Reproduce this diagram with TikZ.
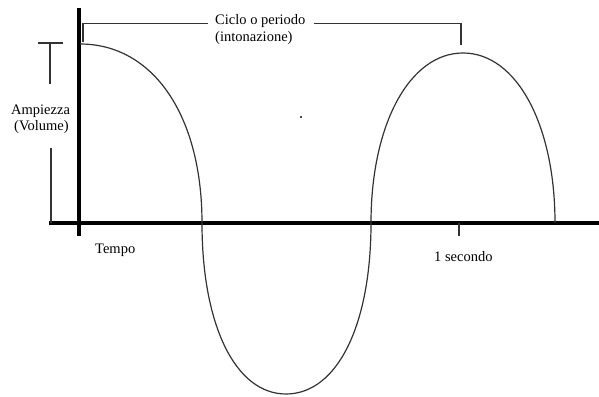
\documentclass[tikz,border=0pt]{standalone}
\usepackage{fontspec}
\setmainfont{Liberation Serif}
\begin{document}
\begin{tikzpicture}[x=1pt,y=1pt,
  lbl/.style={inner sep=0pt, anchor=base west, font=\fontsize{14.5}{17}\selectfont},
  axisline/.style={line width=3.2pt, black},
  thin/.style={line width=1.1pt, black!80},
  wave/.style={line width=1.2pt, black!80}]
\useasboundingbox (0,0) rectangle (599,396);
% axes
\coordinate (hl) at (49,173);
\coordinate (hr) at (599,173);
\coordinate (vt) at (79,388);
\coordinate (vb) at (79,160);
\draw[axisline] (hl) -- (hr);
\draw[axisline] (vt) -- (vb);
% labels
\node[lbl] (ciclo) at (215,371) {Ciclo o periodo};
\node[lbl] (inton) at (215,354) {(intonazione)};
\node[lbl] (amp) at (11,281) {Ampiezza};
\node[lbl] (vol) at (14,265) {(Volume)};
\node[lbl] (tempo) at (95,142) {Tempo};
\node[lbl] (sec) at (434,134) {1 secondo};
% bracket
\coordinate (bl) at (83,354);
\coordinate (bt) at (83,372.5);
\coordinate (br) at (461,372.5);
\coordinate (brb) at (461,351);
\draw[thin] (bl) -- (bt) -- ([xshift=-7pt]ciclo.west |- bt);
\draw[thin] ([xshift=8pt]ciclo.east |- br) -- (br) -- (brb);
% amplitude marker
\coordinate (al) at (38,353);
\coordinate (ar) at (63,353);
\coordinate (am) at (50,353);
\coordinate (amb) at (50,312);
\coordinate (lt) at (51,248);
\coordinate (lb) at (51,173);
\draw[thin] (al) -- (ar);
\draw[thin] (am) -- (amb);
\draw[thin] (lt) -- (lb);
% one-second tick
\coordinate (st) at (459,173);
\coordinate (sb) at (459,160);
\draw[thin] (st) -- (sb);
% stray dot
\fill[black!70] (300,278) rectangle (302,280);
% wave
\coordinate (p0) at (80,352);
\coordinate (z1) at (202,173);
\coordinate (t1) at (286,2);
\coordinate (z2) at (371,173);
\coordinate (p1) at (463,343);
\coordinate (z3) at (555,173);
\draw[wave]
  (p0) .. controls (80+0.6*122,352) and (202,173+0.6*179) .. (z1)
       .. controls (202,173-0.6*171) and (286-0.6*84,2) .. (t1)
       .. controls (286+0.6*85,2) and (371,173-0.6*171) .. (z2)
       .. controls (371,173+0.58*170) and (463-0.58*92,343) .. (p1)
       .. controls (463+0.58*92,343) and (555,173+0.58*170) .. (z3);
\end{tikzpicture}
\end{document}
